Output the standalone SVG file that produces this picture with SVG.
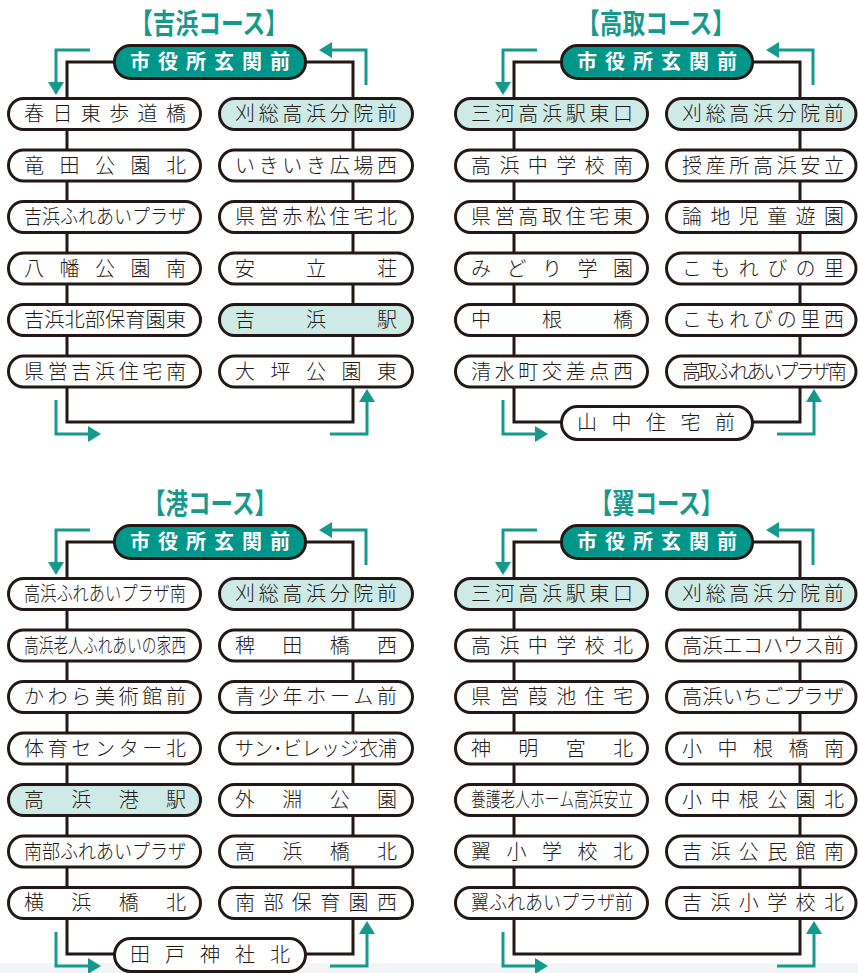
<svg xmlns="http://www.w3.org/2000/svg" width="858" height="973" viewBox="0 0 858 973">
<style>
.bg{fill:#ffffff}
.n{fill:#ffffff;stroke:#231815;stroke-width:3}
.h{fill:#cdeae6;stroke:#231815;stroke-width:3}
.c{fill:#00968a;stroke:#231815;stroke-width:3}
.t{font-family:"Noto Sans CJK JP","Noto Sans",sans-serif;font-size:20px;font-weight:300;fill:#231815}
.ct{font-family:"Noto Sans CJK JP","Noto Sans",sans-serif;font-size:20px;font-weight:700;fill:#ffffff}
.tt{font-family:"Noto Sans CJK JP","Noto Sans",sans-serif;font-size:28px;font-weight:700;fill:#16998d}
.line{fill:none;stroke:#231815;stroke-width:3}
.arr{fill:none;stroke:#16998d;stroke-width:3;marker-end:url(#ah)}
</style>
<defs>
<marker id="ah" markerUnits="userSpaceOnUse" markerWidth="14" markerHeight="16" viewBox="0 0 14 16" refX="0" refY="8" orient="auto">
<path d="M0,0 L13,8 L0,16 z" fill="#16998d"/>
</marker>
</defs>
<rect class="bg" x="0" y="0" width="858" height="973"/>
<rect x="0" y="963" width="858" height="10" fill="#f2f5f5"/>

<g id="connectors">
<path class="line" d="M114.5,62 H67 V422 H353 V62 H305.5"/>
<path class="line" d="M561.5,62 H514 V422 H800 V62 H752.5"/>
<path class="line" d="M114.5,542 H67 V954 H353 V542 H305.5"/>
<path class="line" d="M561.5,542 H514 V954 H800 V542 H752.5"/>
<path class="arr" d="M90,50 H56 V82"/>
<path class="arr" d="M366,85 V50 H332"/>
<path class="arr" d="M56,400 V434 H88"/>
<path class="arr" d="M330,434 H367 V402"/>
<path class="arr" d="M537,50 H503 V82"/>
<path class="arr" d="M813,85 V50 H779"/>
<path class="arr" d="M503,400 V434 H535"/>
<path class="arr" d="M777,434 H814 V402"/>
<path class="arr" d="M90,530 H56 V562"/>
<path class="arr" d="M366,565 V530 H332"/>
<path class="arr" d="M56,932 V966 H88"/>
<path class="arr" d="M330,966 H367 V934"/>
<path class="arr" d="M537,530 H503 V562"/>
<path class="arr" d="M813,565 V530 H779"/>
<path class="arr" d="M503,932 V966 H535"/>
<path class="arr" d="M777,966 H814 V934"/>
</g>

<g id="titles">
<text class="tt" x="130" y="34" textLength="158" lengthAdjust="spacingAndGlyphs">【吉浜コース】</text>
<text class="tt" x="577" y="34" textLength="158" lengthAdjust="spacingAndGlyphs">【高取コース】</text>
<text class="tt" x="143" y="514" textLength="134" lengthAdjust="spacingAndGlyphs">【港コース】</text>
<text class="tt" x="590" y="514" textLength="133" lengthAdjust="spacingAndGlyphs">【翼コース】</text>
</g>

<!-- 吉浜コース -->
<g id="y-city"><rect class="c" x="114.5" y="45.5" width="191" height="33" rx="16" ry="16"/><text class="ct" x="130" y="69" textLength="160" lengthAdjust="spacing">市役所玄関前</text></g>
<g id="y-l1"><rect class="n" x="8.5" y="98.5" width="192" height="31" rx="15" ry="15.5"/><text class="t" x="24" y="121" textLength="162" lengthAdjust="spacing">春日東歩道橋</text></g>
<g id="y-l2"><rect class="n" x="8.5" y="150" width="192" height="31" rx="15" ry="15.5"/><text class="t" x="24" y="172.5" textLength="162" lengthAdjust="spacing">竜田公園北</text></g>
<g id="y-l3"><rect class="n" x="8.5" y="201.5" width="192" height="31" rx="15" ry="15.5"/><text class="t" x="24" y="224" textLength="162" lengthAdjust="spacingAndGlyphs">吉浜ふれあいプラザ</text></g>
<g id="y-l4"><rect class="n" x="8.5" y="253" width="192" height="31" rx="15" ry="15.5"/><text class="t" x="24" y="275.5" textLength="162" lengthAdjust="spacing">八幡公園南</text></g>
<g id="y-l5"><rect class="n" x="8.5" y="304.5" width="192" height="31" rx="15" ry="15.5"/><text class="t" x="24" y="327" textLength="162" lengthAdjust="spacingAndGlyphs">吉浜北部保育園東</text></g>
<g id="y-l6"><rect class="n" x="8.5" y="356" width="192" height="31" rx="15" ry="15.5"/><text class="t" x="24" y="378.5" textLength="162" lengthAdjust="spacing">県営吉浜住宅南</text></g>
<g id="y-r1"><rect class="h" x="219.5" y="98.5" width="193" height="31" rx="15" ry="15.5"/><text class="t" x="235" y="121" textLength="162" lengthAdjust="spacing">刈総高浜分院前</text></g>
<g id="y-r2"><rect class="n" x="219.5" y="150" width="193" height="31" rx="15" ry="15.5"/><text class="t" x="235" y="172.5" textLength="162" lengthAdjust="spacing">いきいき広場西</text></g>
<g id="y-r3"><rect class="n" x="219.5" y="201.5" width="193" height="31" rx="15" ry="15.5"/><text class="t" x="235" y="224" textLength="162" lengthAdjust="spacing">県営赤松住宅北</text></g>
<g id="y-r4"><rect class="n" x="219.5" y="253" width="193" height="31" rx="15" ry="15.5"/><text class="t" x="235" y="275.5" textLength="162" lengthAdjust="spacing">安立荘</text></g>
<g id="y-r5"><rect class="h" x="219.5" y="304.5" width="193" height="31" rx="15" ry="15.5"/><text class="t" x="235" y="327" textLength="162" lengthAdjust="spacing">吉浜駅</text></g>
<g id="y-r6"><rect class="n" x="219.5" y="356" width="193" height="31" rx="15" ry="15.5"/><text class="t" x="235" y="378.5" textLength="162" lengthAdjust="spacing">大坪公園東</text></g>

<!-- 高取コース -->
<g id="t-city"><rect class="c" x="561.5" y="45.5" width="191" height="33" rx="16" ry="16"/><text class="ct" x="577" y="69" textLength="160" lengthAdjust="spacing">市役所玄関前</text></g>
<g id="t-l1"><rect class="h" x="455.5" y="98.5" width="192" height="31" rx="15" ry="15.5"/><text class="t" x="471" y="121" textLength="162" lengthAdjust="spacing">三河高浜駅東口</text></g>
<g id="t-l2"><rect class="n" x="455.5" y="150" width="192" height="31" rx="15" ry="15.5"/><text class="t" x="471" y="172.5" textLength="162" lengthAdjust="spacing">高浜中学校南</text></g>
<g id="t-l3"><rect class="n" x="455.5" y="201.5" width="192" height="31" rx="15" ry="15.5"/><text class="t" x="471" y="224" textLength="162" lengthAdjust="spacing">県営高取住宅東</text></g>
<g id="t-l4"><rect class="n" x="455.5" y="253" width="192" height="31" rx="15" ry="15.5"/><text class="t" x="471" y="275.5" textLength="162" lengthAdjust="spacing">みどり学園</text></g>
<g id="t-l5"><rect class="n" x="455.5" y="304.5" width="192" height="31" rx="15" ry="15.5"/><text class="t" x="471" y="327" textLength="162" lengthAdjust="spacing">中根橋</text></g>
<g id="t-l6"><rect class="n" x="455.5" y="356" width="192" height="31" rx="15" ry="15.5"/><text class="t" x="471" y="378.5" textLength="162" lengthAdjust="spacing">清水町交差点西</text></g>
<g id="t-r1"><rect class="h" x="666.5" y="98.5" width="189.5" height="31" rx="15" ry="15.5"/><text class="t" x="682" y="121" textLength="162" lengthAdjust="spacing">刈総高浜分院前</text></g>
<g id="t-r2"><rect class="n" x="666.5" y="150" width="189.5" height="31" rx="15" ry="15.5"/><text class="t" x="682" y="172.5" textLength="162" lengthAdjust="spacing">授産所高浜安立</text></g>
<g id="t-r3"><rect class="n" x="666.5" y="201.5" width="189.5" height="31" rx="15" ry="15.5"/><text class="t" x="682" y="224" textLength="162" lengthAdjust="spacing">論地児童遊園</text></g>
<g id="t-r4"><rect class="n" x="666.5" y="253" width="189.5" height="31" rx="15" ry="15.5"/><text class="t" x="682" y="275.5" textLength="162" lengthAdjust="spacing">こもれびの里</text></g>
<g id="t-r5"><rect class="n" x="666.5" y="304.5" width="189.5" height="31" rx="15" ry="15.5"/><text class="t" x="682" y="327" textLength="162" lengthAdjust="spacing">こもれびの里西</text></g>
<g id="t-r6"><rect class="n" x="666.5" y="356" width="189.5" height="31" rx="15" ry="15.5"/><text class="t" x="682" y="378.5" textLength="162" lengthAdjust="spacingAndGlyphs" style="letter-spacing:-3px">高取ふれあいプラザ南</text></g>
<g id="t-b"><rect class="n" x="561.5" y="406.5" width="191" height="33" rx="16" ry="16.5"/><text class="t" x="577" y="430" textLength="158" lengthAdjust="spacing">山中住宅前</text></g>

<!-- 港コース -->
<g id="m-city"><rect class="c" x="114.5" y="525.5" width="191" height="33" rx="16" ry="16"/><text class="ct" x="130" y="549" textLength="160" lengthAdjust="spacing">市役所玄関前</text></g>
<g id="m-l1"><rect class="n" x="8.5" y="578.5" width="192" height="31" rx="15" ry="15.5"/><text class="t" x="24" y="601" textLength="162" lengthAdjust="spacingAndGlyphs">高浜ふれあいプラザ南</text></g>
<g id="m-l2"><rect class="n" x="8.5" y="630" width="192" height="31" rx="15" ry="15.5"/><text class="t" x="24" y="652.5" textLength="162" lengthAdjust="spacingAndGlyphs">高浜老人ふれあいの家西</text></g>
<g id="m-l3"><rect class="n" x="8.5" y="681.5" width="192" height="31" rx="15" ry="15.5"/><text class="t" x="24" y="704" textLength="162" lengthAdjust="spacing">かわら美術館前</text></g>
<g id="m-l4"><rect class="n" x="8.5" y="733" width="192" height="31" rx="15" ry="15.5"/><text class="t" x="24" y="755.5" textLength="162" lengthAdjust="spacing">体育センター北</text></g>
<g id="m-l5"><rect class="h" x="8.5" y="784.5" width="192" height="31" rx="15" ry="15.5"/><text class="t" x="24" y="807" textLength="162" lengthAdjust="spacing">高浜港駅</text></g>
<g id="m-l6"><rect class="n" x="8.5" y="836" width="192" height="31" rx="15" ry="15.5"/><text class="t" x="24" y="858.5" textLength="162" lengthAdjust="spacingAndGlyphs">南部ふれあいプラザ</text></g>
<g id="m-l7"><rect class="n" x="8.5" y="887.5" width="192" height="31" rx="15" ry="15.5"/><text class="t" x="24" y="910" textLength="162" lengthAdjust="spacing">横浜橋北</text></g>
<g id="m-r1"><rect class="h" x="219.5" y="578.5" width="193" height="31" rx="15" ry="15.5"/><text class="t" x="235" y="601" textLength="162" lengthAdjust="spacing">刈総高浜分院前</text></g>
<g id="m-r2"><rect class="n" x="219.5" y="630" width="193" height="31" rx="15" ry="15.5"/><text class="t" x="235" y="652.5" textLength="162" lengthAdjust="spacing">稗田橋西</text></g>
<g id="m-r3"><rect class="n" x="219.5" y="681.5" width="193" height="31" rx="15" ry="15.5"/><text class="t" x="235" y="704" textLength="162" lengthAdjust="spacing">青少年ホーム前</text></g>
<g id="m-r4"><rect class="n" x="219.5" y="733" width="193" height="31" rx="15" ry="15.5"/><text class="t" x="235" y="755.5" textLength="162" lengthAdjust="spacingAndGlyphs">サン･ビレッジ衣浦</text></g>
<g id="m-r5"><rect class="n" x="219.5" y="784.5" width="193" height="31" rx="15" ry="15.5"/><text class="t" x="235" y="807" textLength="162" lengthAdjust="spacing">外淵公園</text></g>
<g id="m-r6"><rect class="n" x="219.5" y="836" width="193" height="31" rx="15" ry="15.5"/><text class="t" x="235" y="858.5" textLength="162" lengthAdjust="spacing">高浜橋北</text></g>
<g id="m-r7"><rect class="n" x="219.5" y="887.5" width="193" height="31" rx="15" ry="15.5"/><text class="t" x="235" y="910" textLength="162" lengthAdjust="spacing">南部保育園西</text></g>
<g id="m-b"><rect class="n" x="114.5" y="938.5" width="191" height="33" rx="16" ry="16.5"/><text class="t" x="130" y="962" textLength="160" lengthAdjust="spacing">田戸神社北</text></g>

<!-- 翼コース -->
<g id="w-city"><rect class="c" x="561.5" y="525.5" width="191" height="33" rx="16" ry="16"/><text class="ct" x="577" y="549" textLength="160" lengthAdjust="spacing">市役所玄関前</text></g>
<g id="w-l1"><rect class="h" x="455.5" y="578.5" width="192" height="31" rx="15" ry="15.5"/><text class="t" x="471" y="601" textLength="162" lengthAdjust="spacing">三河高浜駅東口</text></g>
<g id="w-l2"><rect class="n" x="455.5" y="630" width="192" height="31" rx="15" ry="15.5"/><text class="t" x="471" y="652.5" textLength="162" lengthAdjust="spacing">高浜中学校北</text></g>
<g id="w-l3"><rect class="n" x="455.5" y="681.5" width="192" height="31" rx="15" ry="15.5"/><text class="t" x="471" y="704" textLength="162" lengthAdjust="spacing">県営葭池住宅</text></g>
<g id="w-l4"><rect class="n" x="455.5" y="733" width="192" height="31" rx="15" ry="15.5"/><text class="t" x="471" y="755.5" textLength="162" lengthAdjust="spacing">神明宮北</text></g>
<g id="w-l5"><rect class="n" x="455.5" y="784.5" width="192" height="31" rx="15" ry="15.5"/><text class="t" x="471" y="807" textLength="162" lengthAdjust="spacingAndGlyphs">養護老人ホーム高浜安立</text></g>
<g id="w-l6"><rect class="n" x="455.5" y="836" width="192" height="31" rx="15" ry="15.5"/><text class="t" x="471" y="858.5" textLength="162" lengthAdjust="spacing">翼小学校北</text></g>
<g id="w-l7"><rect class="n" x="455.5" y="887.5" width="192" height="31" rx="15" ry="15.5"/><text class="t" x="471" y="910" textLength="162" lengthAdjust="spacingAndGlyphs">翼ふれあいプラザ前</text></g>
<g id="w-r1"><rect class="h" x="666.5" y="578.5" width="189.5" height="31" rx="15" ry="15.5"/><text class="t" x="682" y="601" textLength="162" lengthAdjust="spacing">刈総高浜分院前</text></g>
<g id="w-r2"><rect class="n" x="666.5" y="630" width="189.5" height="31" rx="15" ry="15.5"/><text class="t" x="682" y="652.5" textLength="162" lengthAdjust="spacingAndGlyphs">高浜エコハウス前</text></g>
<g id="w-r3"><rect class="n" x="666.5" y="681.5" width="189.5" height="31" rx="15" ry="15.5"/><text class="t" x="682" y="704" textLength="162" lengthAdjust="spacingAndGlyphs">高浜いちごプラザ</text></g>
<g id="w-r4"><rect class="n" x="666.5" y="733" width="189.5" height="31" rx="15" ry="15.5"/><text class="t" x="682" y="755.5" textLength="162" lengthAdjust="spacing">小中根橋南</text></g>
<g id="w-r5"><rect class="n" x="666.5" y="784.5" width="189.5" height="31" rx="15" ry="15.5"/><text class="t" x="682" y="807" textLength="162" lengthAdjust="spacing">小中根公園北</text></g>
<g id="w-r6"><rect class="n" x="666.5" y="836" width="189.5" height="31" rx="15" ry="15.5"/><text class="t" x="682" y="858.5" textLength="162" lengthAdjust="spacing">吉浜公民館南</text></g>
<g id="w-r7"><rect class="n" x="666.5" y="887.5" width="189.5" height="31" rx="15" ry="15.5"/><text class="t" x="682" y="910" textLength="162" lengthAdjust="spacing">吉浜小学校北</text></g>
</svg>
